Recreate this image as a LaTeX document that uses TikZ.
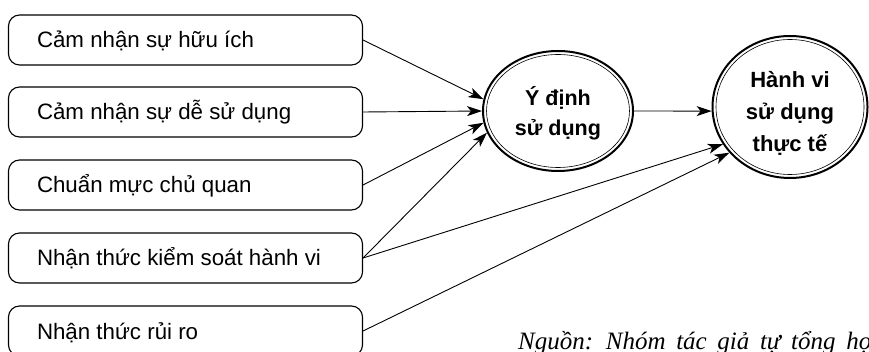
\documentclass[tikz,border=0pt]{standalone}
\usepackage{fontspec}
\setmainfont{Liberation Sans}
\newfontfamily\srcfont[WordSpace=1.7]{Liberation Serif}
\usetikzlibrary{shapes.geometric,arrows.meta}
\newcommand\boxtxt[1]{\makebox[297pt][l]{#1}}
\begin{document}
\begin{tikzpicture}[x=1pt,y=-1pt,
  box/.style={draw, line width=1.1pt, rounded corners=11pt, minimum width=354pt,
    minimum height=50pt, inner xsep=28.5pt, inner ysep=0pt,
    text height=16pt, text depth=0pt, font=\fontsize{22.3}{27}\selectfont},
  ell/.style={draw, ellipse, line width=2pt, inner sep=0pt},
  inell/.style={line width=0.6pt},
  lbl/.style={font=\bfseries\fontsize{21.5}{30}\selectfont, align=center, inner sep=0pt},
  arr/.style={line width=0.9pt, -{Stealth[length=15pt,width=10pt,inset=4pt]}}]
\useasboundingbox (0,0) rectangle (869,352);
\clip (0,0) rectangle (869,352);

\node[box] (b1) at (185.5,40) {\boxtxt{Cảm nhận sự hữu ích}};
\node[box] (b2) at (185.5,112) {\boxtxt{Cảm nhận sự dễ sử dụng}};
\node[box] (b3) at (185.5,185) {\boxtxt{Chuẩn mực chủ quan}};
\node[box] (b4) at (185.5,258) {\boxtxt{Nhận thức kiểm soát hành vi}};
\node[box] (b5) at (185.5,331) {\boxtxt{Nhận thức rủi ro}};

\node[ell, minimum width=150pt, minimum height=120pt] (yd) at (558,111) {};
\draw[inell] (yd.center) ellipse [x radius=71.5pt, y radius=56.5pt];
\node[lbl] (ydt) at (558,113) {Ý định\\sử dụng};

\node[ell, minimum width=155pt, minimum height=142pt] (hv) at (790,107) {};
\draw[inell] (hv.center) ellipse [x radius=74pt, y radius=67.5pt];
\node[lbl, font=\bfseries\fontsize{22}{32}\selectfont] (hvt) at (790,113) {Hành vi\\sử dụng\\thực tế};

\draw[arr] (b1.east) -- (yd.171);
\draw[arr] (b2.east) -- (yd.west);
\draw[arr] (b3.east) -- (yd.189);
\draw[arr] (b4.east) -- (yd.197);
\draw[arr] (b4.east) -- (hv.209);
\draw[arr] (b5.east) -- (hv.217);
\draw[arr] (yd.east) -- (hv.183);

\node[anchor=base west, inner sep=0pt, font=\srcfont\itshape\fontsize{25}{29}\selectfont] (src) at (518,349) {Nguồn: Nhóm tác giả tự tổng hợp};
\end{tikzpicture}
\end{document}
